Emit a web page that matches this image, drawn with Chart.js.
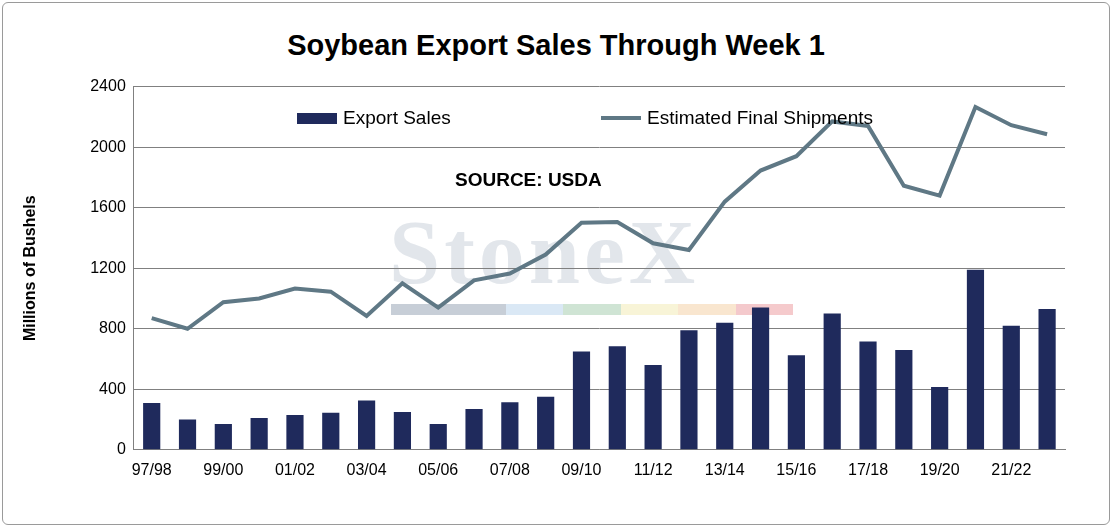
<!DOCTYPE html>
<html><head><meta charset="utf-8">
<script src="https://cdn.jsdelivr.net/npm/chart.js@4/dist/chart.umd.min.js"></script>
<style>
body{margin:0;background:#fff;font-family:Arial,"Liberation Sans",sans-serif}
#wrap{position:relative;width:1108px;height:523px;border:1px solid #9a9a9a;border-radius:6px;box-sizing:border-box;margin:2px}
#title{position:absolute;top:26px;left:0;width:100%;text-align:center;font-size:29px;font-weight:bold;color:#000}
#box{position:absolute;left:14px;top:66px;width:1084px;height:414px}
.leg{position:absolute;font-size:19px;color:#000;display:flex;align-items:center}
.sw{display:inline-block;margin-right:6px}
#src{position:absolute;left:452px;top:166px;font-size:19px;font-weight:bold}
#wm{position:absolute;left:386px;top:196px;font-size:92px;font-family:"Liberation Serif",serif;font-weight:bold;color:rgba(190,200,210,0.45);letter-spacing:4px}
#wmbar{position:absolute;left:388px;top:301px;width:402px;height:11px;display:flex;opacity:.55}
#wmbar span{flex:1}
</style></head><body>
<div id="wrap">
<div id="title">Soybean Export Sales Through Week 1</div>
<div id="wm">StoneX</div>
<div id="wmbar"><span style="background:#9aa7b8"></span><span style="background:#9aa7b8"></span><span style="background:#bcd6ee"></span><span style="background:#a9cfb2"></span><span style="background:#f3ecb8"></span><span style="background:#f5d2a8"></span><span style="background:#ec9ea3"></span></div>
<div id="box"><canvas id="c"></canvas></div>
<div class="leg" style="left:294px;top:104px"><span class="sw" style="width:40px;height:11px;background:#1f2a5c"></span>Export Sales</div>
<div class="leg" style="left:598px;top:104px"><span class="sw" style="width:40px;height:4px;background:#5f7885"></span>Estimated Final Shipments</div>
<div id="src">SOURCE: USDA</div>
</div>
<script>
const seasons = ['97/98','98/99','99/00','00/01','01/02','02/03','03/04','04/05','05/06','06/07','07/08','08/09','09/10','10/11','11/12','12/13','13/14','14/15','15/16','16/17','17/18','18/19','19/20','20/21','21/22','22/23'];
const exportSales = [310,200,170,210,230,245,325,250,170,270,315,350,650,685,560,790,840,940,625,900,715,660,415,1190,820,930];
const finalShipments = [870,800,975,1000,1065,1045,885,1100,940,1120,1165,1290,1500,1505,1365,1320,1640,1845,1940,2170,2140,1745,1680,2265,2145,2085];
const yTicks = [0,400,800,1200,1600,2000,2400];

Chart.defaults.font.family = "Arial, 'Liberation Sans', sans-serif";
Chart.defaults.color = '#000';

new Chart(document.getElementById('c'), {
  data: {
    labels: seasons,
    datasets: [
      { type: 'line', label: 'Estimated Final Shipments', data: finalShipments, borderColor: '#5f7885', borderWidth: 4, pointRadius: 0, tension: 0, order: 0 },
      { type: 'bar', label: 'Export Sales', data: exportSales, backgroundColor: '#1f2a5c', categoryPercentage: 0.48, barPercentage: 1, order: 1 }
    ]
  },
  options: {
    maintainAspectRatio: false,
    animation: false,
    layout: { padding: { right: 36, top: 10 } },
    plugins: { legend: { display: false }, tooltip: { enabled: false } },
    scales: {
      x: {
        grid: { display: false },
        border: { color: '#808080' },
        ticks: { font: { size: 16 }, maxRotation: 0, autoSkip: false, callback: (v, i) => i % 2 === 0 ? seasons[i] : '' }
      },
      y: {
        min: 0, max: 2400,
        afterBuildTicks: s => { s.ticks = yTicks.map(v => ({ value: v })); },
        grid: { color: '#808080', drawTicks: false },
        border: { color: '#808080' },
        ticks: { font: { size: 16 }, padding: 8, callback: v => String(v) },
        title: { display: true, text: 'Millions of Bushels', font: { size: 16, weight: 'bold' }, padding: { bottom: 42 } }
      }
    }
  }
});
</script>
</body></html>
